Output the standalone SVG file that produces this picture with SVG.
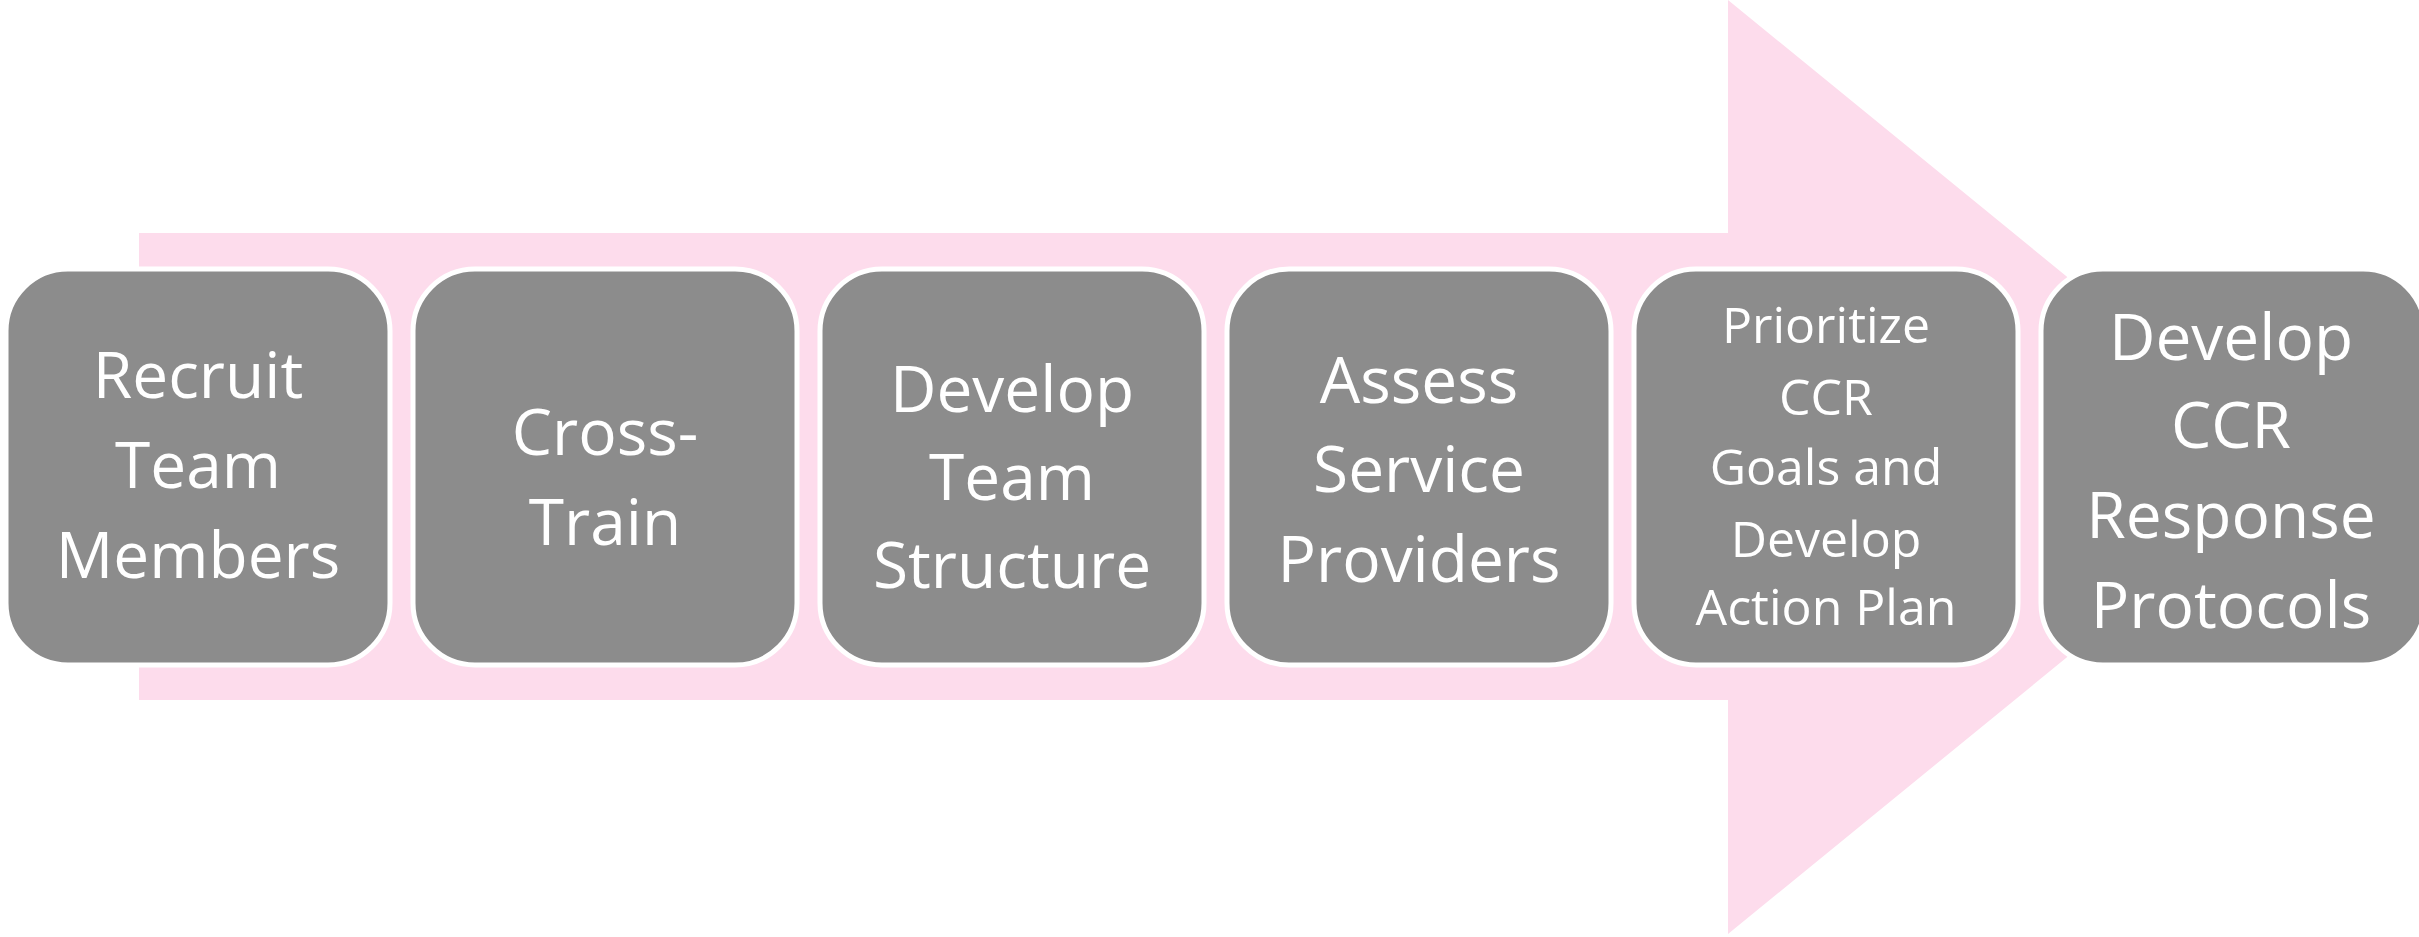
<svg xmlns="http://www.w3.org/2000/svg" width="2419" height="937" viewBox="0 0 2419 937">
<style>
.box{fill:#8c8c8c;stroke:#ffffff;stroke-width:5}
.t{font-family:"Open Sans","Lato",sans-serif;fill:#ffffff;text-anchor:middle;font-size:64px}
.s{font-size:50px}
</style>
<rect width="2419" height="937" fill="#ffffff"/>
<g id="arrow">
<polygon points="139,233 1728,233 1728,0 2300,467 1728,934 1728,700 139,700" fill="#fddcec"/>
</g>
<g id="connectors"></g>
<g id="n1">
<rect class="box" x="6" y="269" width="384" height="396" rx="62"/>
<text class="t" x="198" y="398">Recruit</text>
<text class="t" x="198" y="488">Team</text>
<text class="t" x="198" y="578">Members</text>
</g>
<g id="n2">
<rect class="box" x="413" y="269" width="384" height="396" rx="62"/>
<text class="t" x="605" y="455">Cross-</text>
<text class="t" x="605" y="545">Train</text>
</g>
<g id="n3">
<rect class="box" x="820" y="269" width="384" height="396" rx="62"/>
<text class="t" x="1012" y="412">Develop</text>
<text class="t" x="1012" y="500">Team</text>
<text class="t" x="1012" y="588">Structure</text>
</g>
<g id="n4">
<rect class="box" x="1227" y="269" width="384" height="396" rx="62"/>
<text class="t" x="1419" y="403">Assess</text>
<text class="t" x="1419" y="492">Service</text>
<text class="t" x="1419" y="582">Providers</text>
</g>
<g id="n5">
<rect class="box" x="1634" y="269" width="384" height="396" rx="62"/>
<text class="t s" x="1826" y="343">Prioritize</text>
<text class="t s" x="1826" y="415">CCR</text>
<text class="t s" x="1826" y="485">Goals and</text>
<text class="t s" x="1826" y="557">Develop</text>
<text class="t s" x="1826" y="625">Action Plan</text>
</g>
<g id="n6">
<rect class="box" x="2041" y="269" width="384" height="396" rx="62"/>
<text class="t" x="2231" y="360">Develop</text>
<text class="t" x="2231" y="448">CCR</text>
<text class="t" x="2231" y="538">Response</text>
<text class="t" x="2231" y="628">Protocols</text>
</g>
</svg>
